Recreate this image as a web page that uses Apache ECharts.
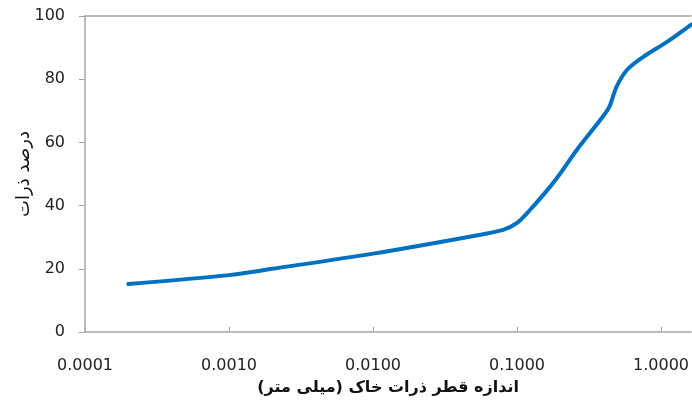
<!DOCTYPE html>
<html>
<head>
<meta charset="utf-8">
<script src="https://cdn.jsdelivr.net/npm/echarts@6/dist/echarts.min.js"></script>
<style>
  html, body { margin: 0; padding: 0; background: #fff; }
  #chart { width: 692px; height: 405px; }
</style>
</head>
<body>
<div id="chart"></div>
<script>
// قطر ذرات (میلی متر)
var diameters = [0.0002, 0.001, 0.002, 0.01, 0.05, 0.08, 0.1, 0.123, 0.17, 0.2, 0.26, 0.4, 0.44, 0.49, 0.58, 0.75, 1.1, 1.62];
// درصد ذرات
var percents = [15.2, 18.0, 20.0, 24.8, 30.4, 32.3, 34.5, 38.6, 46.0, 50.2, 57.6, 68.5, 71.5, 77.5, 82.9, 87.0, 91.8, 97.3];
var yTicks = [0, 20, 40, 60, 80, 100];

var axisGrey = '#a6a6a6';
var points = diameters.map(function (d, i) { return [d, percents[i]]; });

var chart = echarts.init(document.getElementById('chart'), null, { renderer: 'canvas' });
chart.setOption({
  animation: false,
  grid: { left: 85, right: 0, top: 16, bottom: 73 },
  xAxis: [{
    type: 'log',
    logBase: 10,
    min: 0.0001,
    max: 1.62,
    name: 'اندازه قطر ذرات خاک (میلی متر)',
    nameLocation: 'middle',
    nameGap: 48,
    nameMoveOverlap: false,
    nameTextStyle: { fontFamily: 'DejaVu Sans', fontSize: 16, fontWeight: 'bold', color: '#111' },
    axisLine: { lineStyle: { color: axisGrey, width: 1.5 } },
    axisTick: { inside: true, length: 5, lineStyle: { color: axisGrey } },
    axisLabel: {
      margin: 26,
      fontFamily: 'DejaVu Sans',
      fontSize: 16,
      color: '#222',
      showMaxLabel: false,
      formatter: function (v) { return Number(v).toFixed(4); }
    },
    splitLine: { show: false },
    minorTick: { show: false }
  }, {
    type: 'log',
    position: 'top',
    min: 0.0001,
    max: 1.62,
    axisLine: { lineStyle: { color: axisGrey, width: 1.5 } },
    axisTick: { show: false },
    axisLabel: { show: false },
    splitLine: { show: false }
  }],
  yAxis: {
    type: 'value',
    min: yTicks[0],
    max: yTicks[yTicks.length - 1],
    interval: 20,
    name: 'درصد ذرات',
    nameLocation: 'middle',
    nameGap: 52,
    nameMoveOverlap: false,
    nameTextStyle: { fontFamily: 'DejaVu Sans', fontSize: 18, color: '#111' },
    axisLine: { show: true, lineStyle: { color: axisGrey, width: 1.5 } },
    axisTick: { show: true, length: 6, lineStyle: { color: axisGrey } },
    axisLabel: { margin: 20, fontFamily: 'DejaVu Sans', fontSize: 16, color: '#222' },
    splitLine: { show: false }
  },
  series: [{
    type: 'line',
    data: points,
    smooth: 0.3,
    showSymbol: false,
    symbol: 'none',
    lineStyle: { color: '#0070c0', width: 4, cap: 'round' },
    clip: true
  }]
});
</script>
</body>
</html>
